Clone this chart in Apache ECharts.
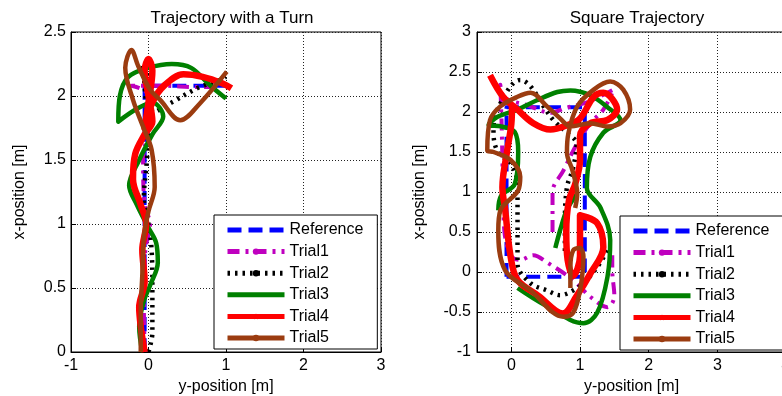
<!DOCTYPE html>
<html><head><meta charset="utf-8">
<script src="https://cdn.jsdelivr.net/npm/echarts@6/dist/echarts.min.js"></script>
<style>html,body{margin:0;padding:0;background:#fff}#c{width:782px;height:396px}</style>
</head><body><div id="c"></div>
<script>
// ---------- data ----------
const seriesNames = ['Reference', 'Trial1', 'Trial2', 'Trial3', 'Trial4', 'Trial5'];
const turnXTicks = [-1, 0, 1, 2, 3];
const turnYTicks = [0, 0.5, 1, 1.5, 2, 2.5];
const squareXTicks = [0, 1, 2, 3, 4];
const squareYTicks = [-1, -0.5, 0, 0.5, 1, 1.5, 2, 2.5, 3];

// points are [y-position, x-position]
const turnReference = [[-0.05, 0], [-0.05, 2.08], [1.12, 2.08]];
const turnTrial1 = [[-0.05, 0], [-0.06, 0.4], [-0.04, 0.8], [0.02, 1.0], [-0.05, 1.15], [-0.07, 1.5], [0, 1.78], [-0.02, 2.02], [-0.22, 2.08], [0.2, 2.08], [0.6, 2.07], [0.95, 2.07]];
const turnTrial2 = [[0.0, 0], [0.05, 0.15], [0.05, 0.5], [0.04, 0.8], [0.0, 1.0], [-0.06, 1.2], [-0.02, 1.5], [0.0, 1.75], [-0.04, 2.0], [-0.07, 2.25], [0.02, 2.1], [0.06, 1.87], [0.3, 1.95], [0.66, 2.07], [0.9, 2.12], [1.0, 2.15]];
const turnTrial3 = [[-0.08, 0], [-0.12, 0.2], [-0.06, 0.4], [0.02, 0.52], [0.12, 0.7], [0.1, 0.85], [0.0, 0.97], [-0.15, 1.15], [-0.25, 1.3], [-0.12, 1.5], [0.05, 1.7], [0.19, 1.84], [0.05, 1.95], [-0.15, 1.9], [-0.39, 1.8], [-0.37, 2.0], [-0.26, 2.15], [0.0, 2.22], [0.3, 2.25], [0.55, 2.22], [0.8, 2.08], [1.0, 1.98]];
const turnTrial4 = [[-0.05, 0], [-0.1, 0.2], [-0.12, 0.35], [-0.05, 0.55], [-0.08, 0.8], [-0.03, 1.0], [-0.1, 1.15], [-0.2, 1.35], [-0.17, 1.55], [-0.05, 1.7], [0.05, 1.8], [0.0, 2.0], [-0.05, 2.2], [0.0, 2.29], [0.05, 2.2], [0.0, 1.95], [-0.05, 1.75], [0.05, 1.95], [0.2, 2.08], [0.45, 2.17], [0.7, 2.15], [0.95, 2.1], [1.07, 2.06]];
const turnTrial5 = [[-0.1, 0], [-0.1, 0.3], [-0.08, 0.6], [-0.06, 0.9], [0.0, 1.1], [0.08, 1.29], [0.04, 1.58], [-0.07, 1.76], [-0.2, 1.97], [-0.3, 2.22], [-0.22, 2.36], [-0.13, 2.23], [0.02, 2.05], [0.15, 1.97], [0.41, 1.81], [0.66, 1.94], [1.01, 2.19]];

const squareReference = [[-0.07, -0.06], [-0.07, 2.06], [1.07, 2.06], [1.07, -0.06], [-0.07, -0.06]];
const squareTrial1 = [[0.6, 0.5], [0.6, 1.0], [0.76, 1.27], [0.96, 1.61], [1.15, 1.86], [1.34, 2.03], [1.49, 2.28], [1.1, 2.12], [0.79, 2.05], [0.57, 1.99], [0.25, 2.08], [-0.1, 2.18], [-0.16, 2.34], [-0.14, 1.8], [-0.12, 1.0], [-0.1, 0.5], [0.0, 0.2], [0.13, 0.15], [0.32, 0.21], [0.52, 0.12], [0.9, -0.1], [1.15, -0.31], [1.4, -0.44], [1.5, -0.3], [1.47, 0.02], [1.47, 0.23]];
const squareTrial2 = [[1.4, 0.27], [1.25, 0.06], [1.05, -0.14], [0.86, -0.25], [0.71, -0.29], [0.52, -0.23], [0.28, -0.14], [0.09, 0.1], [0.09, 0.6], [0.09, 1.1], [-0.01, 1.36], [-0.19, 1.49], [-0.26, 1.74], [-0.24, 1.94], [-0.1, 2.2], [0.03, 2.36], [0.13, 2.4], [0.28, 2.32], [0.47, 2.07], [0.61, 1.9], [0.8, 1.75], [0.95, 1.6], [0.9, 1.3], [0.81, 1.06], [0.78, 0.6], [0.78, 0.2]];
const squareTrial3 = [[0.09, -0.2], [0.5, -0.42], [1.05, -0.64], [1.25, -0.51], [1.4, -0.06], [1.44, 0.4], [1.3, 0.8], [1.1, 1.05], [1.15, 1.44], [1.34, 1.74], [1.59, 1.9], [1.4, 2.06], [1.15, 2.21], [0.86, 2.27], [0.67, 2.25], [0.38, 2.15], [0.09, 2.03], [-0.2, 1.94], [-0.33, 1.84], [-0.15, 1.82], [0.05, 1.75], [0.1, 1.5], [0.05, 1.1], [-0.15, 0.95], [-0.19, 0.77], ['-', '-'], [0.64, 0.3], [0.72, 0.55], [0.81, 0.78], [0.95, 0.97]];
const squareTrial4 = [[-0.31, 2.46], [-0.12, 2.19], [0.09, 2.03], [0.32, 1.86], [0.57, 1.78], [0.8, 1.83], [1.0, 1.92], [1.2, 2.19], [1.34, 2.24], [1.54, 2.03], [1.4, 1.9], [1.15, 1.86], [1.0, 1.7], [1.0, 1.4], [0.93, 1.1], [0.84, 0.9], [0.8, 0.5], [0.82, 0.15], [0.9, -0.05], [1.0, 0.2], [1.0, 0.71], [1.25, 0.61], [1.34, 0.31], [1.15, -0.02], [0.95, -0.3], [0.75, -0.52], [0.4, -0.3], [0.09, -0.1], [-0.01, 0.19], [-0.09, 0.78], [-0.13, 1.06], [-0.06, 1.52], [0.0, 1.85], [0.01, 2.11]];
const squareTrial5 = [[0.93, 0.8], [0.96, 0.98], [0.89, 1.27], [0.81, 1.49], [0.83, 1.73], [0.96, 2.07], [1.2, 2.28], [1.44, 2.38], [1.63, 2.28], [1.73, 2.03], [1.59, 1.86], [1.4, 1.82], [1.15, 1.86], [0.86, 1.82], [0.71, 1.92], [0.52, 2.07], [0.28, 2.24], [0.09, 2.19], [-0.16, 2.07], [-0.31, 1.9], [-0.35, 1.52], [-0.26, 1.5], [-0.01, 1.4], [0.13, 1.19], [0.1, 1.02], [-0.16, 0.77], [-0.19, 0.52], [-0.09, 0.02], [0.28, -0.23], [0.76, -0.56], [0.9, -0.51], [1.0, -0.23], [1.05, 0.19], [1.0, 0.3], [0.9, 0.27], [0.86, 0.06], [0.86, -0.2]];

const turnData = [turnReference, turnTrial1, turnTrial2, turnTrial3, turnTrial4, turnTrial5];
const squareData = [squareReference, squareTrial1, squareTrial2, squareTrial3, squareTrial4, squareTrial5];

// ---------- styles ----------
const STAR = 'path://M50,0 L61,35 L98,35 L68,57 L79,91 L50,70 L21,91 L32,57 L2,35 L39,35 Z';
const styles = [
  { color: '#0000FF', width: 4, type: [14, 7], symbol: 'none' },
  { color: '#BF00BF', width: 4, type: [12, 6, 3, 6], symbol: 'circle' },
  { color: '#000000', width: 4.5, type: [2.5, 5], symbol: 'circle' },
  { color: '#008000', width: 4.5, type: 'solid', symbol: 'none' },
  { color: '#FF0000', width: 6.5, type: 'solid', symbol: STAR },
  { color: '#9B3C10', width: 4.5, type: 'solid', symbol: 'circle' }
];
const FONT = 'Liberation Sans';

function makeSeries(dataList, axisIndex) {
  return dataList.map((d, i) => ({
    name: seriesNames[i],
    type: 'line',
    xAxisIndex: axisIndex,
    yAxisIndex: axisIndex,
    data: d,
    symbol: styles[i].symbol,
    showSymbol: false,
    smooth: 0.35,
    silent: true,
    itemStyle: { color: styles[i].color },
    lineStyle: { color: styles[i].color, width: styles[i].width, type: styles[i].type, cap: 'butt', join: 'round' },
    emphasis: { disabled: true },
    z: 2 + i
  }));
}

function legendData() {
  return seriesNames.map((n, i) => (styles[i].symbol === 'none' ? { name: n, itemStyle: { opacity: 0 } } : { name: n }));
}

function makeLegend(left, top, padRight) {
  return {
    left: left, top: top,
    orient: 'vertical',
    data: legendData(),
    backgroundColor: '#fff',
    borderColor: '#000',
    borderWidth: 1,
    borderRadius: 0,
    padding: [7, padRight, 3, 11],
    itemWidth: 57,
    itemHeight: 8,
    itemGap: 5.6,
    selectedMode: false,
    lineStyle: { width: 5 },
    textStyle: { fontFamily: FONT, fontSize: 16, color: '#000', lineHeight: 16 }
  };
}

const axisCommon = {
  type: 'value',
  axisLine: { show: true, onZero: false, lineStyle: { color: '#000', width: 1 } },
  axisTick: { show: true, inside: true, length: 5, lineStyle: { color: '#000' } },
  splitLine: { show: true, lineStyle: { color: '#222', width: 1, type: [1, 2] } },
  nameLocation: 'middle',
  nameTextStyle: { fontFamily: FONT, fontSize: 16, color: '#000' }
};
function lab(margin) {
  return { fontFamily: FONT, fontSize: 16, color: '#000', margin: margin };
}

const option = {
  animation: false,
  backgroundColor: '#fff',
  title: [
    { text: 'Trajectory with a Turn', left: 227, top: 5, textAlign: 'center', textStyle: { fontFamily: FONT, fontSize: 17, fontWeight: 'normal', color: '#000' } },
    { text: 'Square Trajectory', left: 632, top: 5, textAlign: 'center', textStyle: { fontFamily: FONT, fontSize: 17, fontWeight: 'normal', color: '#000' } }
  ],
  grid: [
    { left: 71, top: 32, width: 310, height: 320, show: true, borderColor: '#000', borderWidth: 1, backgroundColor: '#fff', containLabel: false, outerBoundsMode: 'none' },
    { left: 477, top: 32, width: 309, height: 320, show: true, borderColor: '#000', borderWidth: 1, backgroundColor: '#fff', containLabel: false, outerBoundsMode: 'none' }
  ],
  xAxis: [
    Object.assign({}, axisCommon, {
      gridIndex: 0, min: turnXTicks[0], max: turnXTicks[turnXTicks.length - 1], interval: 1,
      name: 'y-position [m]', nameGap: 25, axisLabel: lab(6)
    }),
    Object.assign({}, axisCommon, {
      gridIndex: 1, min: -0.5, max: 4,
      axisTick: Object.assign({}, axisCommon.axisTick, { customValues: squareXTicks }),
      axisLabel: Object.assign(lab(6), { customValues: squareXTicks }),
      name: 'y-position [m]', nameGap: 25
    })
  ],
  yAxis: [
    Object.assign({}, axisCommon, {
      gridIndex: 0, min: turnYTicks[0], max: turnYTicks[turnYTicks.length - 1], interval: 0.5,
      name: 'x-position [m]', nameGap: 43, axisLabel: lab(5)
    }),
    Object.assign({}, axisCommon, {
      gridIndex: 1, min: squareYTicks[0], max: squareYTicks[squareYTicks.length - 1], interval: 0.5,
      name: 'x-position [m]', nameGap: 49, axisLabel: lab(6)
    })
  ],
  legend: [makeLegend(214, 215, 14), makeLegend(620, 216, 44)],
  series: makeSeries(turnData, 0).concat(makeSeries(squareData, 1))
};

const chart = echarts.init(document.getElementById('c'), null, { renderer: 'canvas' });
chart.setOption(option);
</script>
</body></html>
